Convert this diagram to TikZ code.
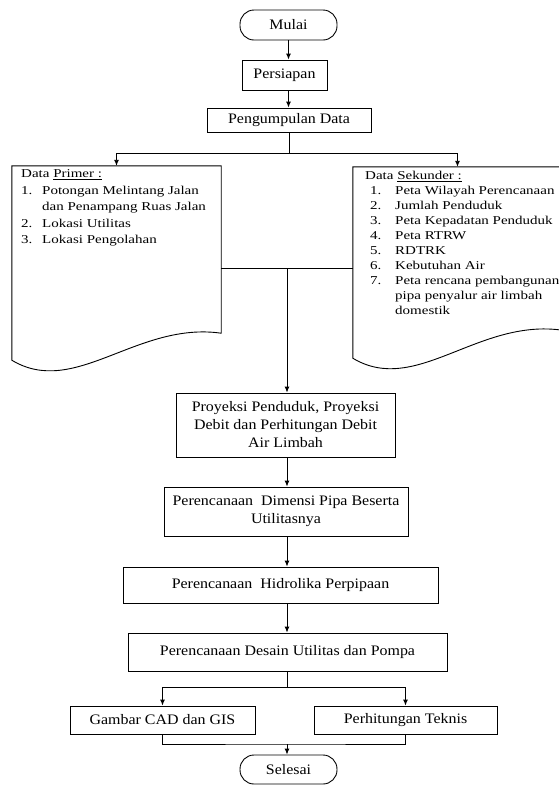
\documentclass[tikz,border=0pt]{standalone}
\usepackage{fontspec}
\setmainfont{Liberation Serif}[FakeStretch=1.1]
\newfontfamily\listfont{Liberation Serif}[FakeStretch=1.25]
\usetikzlibrary{arrows.meta}

\begin{document}
\begin{tikzpicture}[x=1pt,y=-1pt,
  font=\fontsize{14.5}{18}\selectfont,
  box/.style={draw,line width=0.9pt,inner sep=0pt,align=center},
  term/.style={box,rounded corners=14pt},
  doc/.style={inner sep=0pt,minimum width=209pt},
  list/.style={inner sep=0pt,anchor=north west,align=left},
  line/.style={line width=0.9pt},
  arr/.style={line,-{Latex[length=6pt,width=5pt]}}]
\useasboundingbox (0,0) rectangle (559,785);

\node[term,minimum width=97pt,minimum height=30pt] (mulai) at (288.5,25) {Mulai};
\node[box,minimum width=85pt,minimum height=30pt] (persiapan) at (284.5,75) {Persiapan};
\node[box,minimum width=164pt,minimum height=24pt] (kumpul) at (289,120) {Pengumpulan Data};

% dokumen data primer dan sekunder
\node[doc,minimum height=167pt] (prim) at (116.5,249.5) {};
\node[doc,minimum height=163pt] (sek) at (457.5,248.5) {};
\draw[line] (prim.south east) -- (prim.north east) -- (prim.north west)
  -- ([shift={(0,27)}]prim.south west)
  .. controls ([shift={(63,65)}]prim.south west) and ([shift={(125,-12)}]prim.south west) .. cycle;
\draw[line] (sek.south east) -- (sek.north east) -- (sek.north west)
  -- ([shift={(0,28)}]sek.south west)
  .. controls ([shift={(63,66)}]sek.south west) and ([shift={(125,-12)}]sek.south west) .. cycle;

\node[list,font=\listfont\fontsize{12}{16.5}\selectfont] (primtext) at (21,169.5)
  {Data \underline{Primer :}\\
   \makebox[21pt][l]{1.}Potongan Melintang Jalan\\
   \hspace*{21pt}dan Penampang Ruas Jalan\\
   \makebox[21pt][l]{2.}Lokasi Utilitas\\
   \makebox[21pt][l]{3.}Lokasi Pengolahan};
\node[list,font=\listfont\fontsize{12}{15}\selectfont] (sektext) at (365,171)
  {Data \underline{Sekunder :}\\
   \hspace*{5pt}\makebox[25pt][l]{1.}Peta Wilayah Perencanaan\\
   \hspace*{5pt}\makebox[25pt][l]{2.}Jumlah Penduduk\\
   \hspace*{5pt}\makebox[25pt][l]{3.}Peta Kepadatan Penduduk\\
   \hspace*{5pt}\makebox[25pt][l]{4.}Peta RTRW\\
   \hspace*{5pt}\makebox[25pt][l]{5.}RDTRK\\
   \hspace*{5pt}\makebox[25pt][l]{6.}Kebutuhan Air\\
   \hspace*{5pt}\makebox[25pt][l]{7.}Peta rencana pembangunan\\
   \hspace*{30pt}pipa penyalur air limbah\\
   \hspace*{30pt}domestik};

\node[box,minimum width=219pt,minimum height=64pt] (proy) at (285.5,425)
  {Proyeksi Penduduk, Proyeksi\\ Debit dan Perhitungan Debit\\ Air Limbah};
\node[box,minimum width=244pt,minimum height=49pt] (dim) at (286,511.5)
  {Perencanaan~ Dimensi Pipa Beserta\\ Utilitasnya};
\node[box,minimum width=315pt,minimum height=36pt] (hid) at (280.5,585)
  {Perencanaan~ Hidrolika Perpipaan};
\node[box,minimum width=319pt,minimum height=38pt] (des) at (287.5,652)
  {Perencanaan Desain Utilitas dan Pompa};
\node[box,minimum width=185pt,minimum height=28pt] (gambar) at (162.5,720) {Gambar CAD dan GIS};
\node[box,minimum width=183pt,minimum height=28pt] (teknis) at (405.5,720) {Perhitungan Teknis};
\node[term,minimum width=97pt,minimum height=29pt] (selesai) at (288.5,769.5) {Selesai};

\coordinate (col) at (287,0);
\coordinate (split) at (289,153);
\coordinate (merge) at (287,268);
\coordinate (split2) at (287,687);
\coordinate (join) at (287,744);

\draw[arr] (mulai.south) -- (mulai.south |- persiapan.north);
\draw[arr] (persiapan.south -| mulai.south) -- (kumpul.north -| mulai.south);
\draw[line] (kumpul.south) -- (split);
\draw[arr] (split) -| (prim.north);
\draw[arr] (split) -| (sek.north);
\draw[line] (prim.east |- merge) -- (sek.west |- merge);
\draw[arr] (merge) -- (merge |- proy.north);
\draw[arr] (proy.south -| col) -- (dim.north -| col);
\draw[arr] (dim.south -| col) -- (hid.north -| col);
\draw[arr] (hid.south -| col) -- (des.north -| col);
\draw[line] (des.south -| split2) -- (split2);
\draw[arr] (split2) -| (gambar.north);
\draw[arr] (split2) -| (teknis.north);
\draw[line] (gambar.south) |- (join) -| (teknis.south);
\draw[arr] (join) -- (join |- selesai.north);
\end{tikzpicture}
\end{document}
